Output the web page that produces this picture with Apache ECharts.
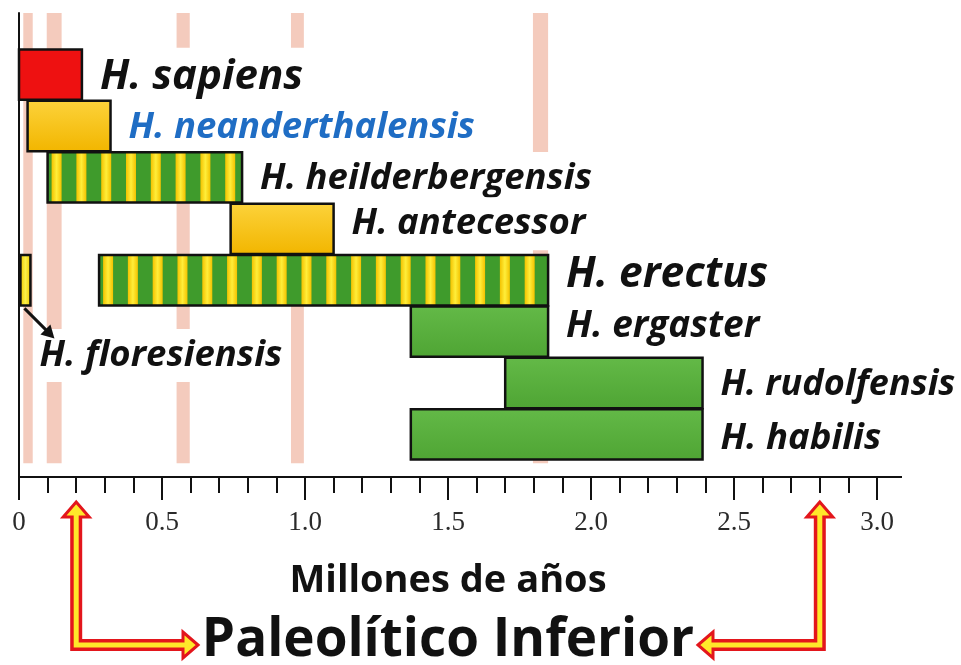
<!DOCTYPE html>
<html>
<head>
<meta charset="utf-8">
<title>Paleolítico Inferior</title>
<script src="https://cdn.jsdelivr.net/npm/echarts@6/dist/echarts.min.js"></script>
<style>
  html, body { margin: 0; padding: 0; background: #fff; }
  #chart { width: 961px; height: 665px; }
</style>
</head>
<body>
<div id="chart"></div>
<script>
// Species time ranges (millions of years ago) and the row each one sits on
const species = ['H. sapiens', 'H. neanderthalensis', 'H. heilderbergensis', 'H. antecessor',
    'H. erectus', 'H. floresiensis', 'H. ergaster', 'H. rudolfensis', 'H. habilis'];
const rangeStart = [0, 0.03, 0.1, 0.74, 0.28, 0.005, 1.37, 1.7, 1.37];
const rangeEnd = [0.22, 0.32, 0.78, 1.1, 1.85, 0.04, 1.85, 2.39, 2.39];
const rowIndex = [0, 1, 2, 3, 4, 4, 5, 6, 7];

// Pink background bands
const bandStart = [0.015, 0.097, 0.551, 0.951, 1.797];
const bandEnd = [0.048, 0.149, 0.597, 0.996, 1.85];

// X axis labels
const xTickValues = [0, 0.5, 1, 1.5, 2, 2.5, 3];
const xTickLabels = ['0', '0.5', '1.0', '1.5', '2.0', '2.5', '3.0'];

// Ends of the "Paleolítico Inferior" arrows on the axis
const periodBounds = [0.2, 2.8];

const FONT = '"Open Sans", "DejaVu Sans", sans-serif';

const speciesStyle = {
    'H. sapiens': {fill: 'red', size: 42, dy: 2},
    'H. neanderthalensis': {fill: 'orange', size: 36.5, dy: 2, color: '#1f6dc4'},
    'H. heilderbergensis': {fill: 'stripes', size: 36.5, dy: 1},
    'H. antecessor': {fill: 'orange', size: 36.5, dy: -5},
    'H. erectus': {fill: 'stripes', size: 42.5, dy: -5},
    'H. floresiensis': {fill: 'yellow', size: 36.5, below: true},
    'H. ergaster': {fill: 'green', size: 37, dy: -5},
    'H. rudolfensis': {fill: 'green', size: 36, dy: 2},
    'H. habilis': {fill: 'green', size: 36.5, dy: 4}
};

const fills = {
    red: '#ee1111',
    orange: new echarts.graphic.LinearGradient(0, 0, 0, 1, [
        {offset: 0, color: '#fcd23a'}, {offset: 1, color: '#f2b600'}]),
    green: new echarts.graphic.LinearGradient(0, 0, 0, 1, [
        {offset: 0, color: '#63b947'}, {offset: 1, color: '#4fa534'}]),
    yellow: new echarts.graphic.LinearGradient(0, 0, 1, 0, [
        {offset: 0, color: '#efc800'}, {offset: 0.5, color: '#fbf04a'}, {offset: 1, color: '#efc800'}])
};
const stripeYellow = new echarts.graphic.LinearGradient(0, 0, 1, 0, [
    {offset: 0, color: '#f3c200'}, {offset: 0.5, color: '#ffee3a'}, {offset: 1, color: '#f3c200'}]);
const STRIPE_PERIOD = 24.8;
const STRIPE_WIDTH = 10;

const Y_MIN = -1.2;
const Y_MAX = 7.83;
const BAND_BOTTOM = 7.56;

const barData = species.map(function (name, i) {
    return [rangeStart[i], rangeEnd[i], rowIndex[i]];
});
const bandData = bandStart.map(function (s, i) {
    return [s, bandEnd[i]];
});

function barRect(api) {
    const row = api.value(2);
    const p0 = api.coord([api.value(0), row]);
    const p1 = api.coord([api.value(1), row]);
    const h = Math.abs(api.size([0, 1])[1]) * 0.98;
    return {x: p0[0], y: p0[1] - h / 2, width: p1[0] - p0[0], height: h};
}

function renderBand(params, api) {
    const top = api.coord([api.value(0), Y_MIN]);
    const bottom = api.coord([api.value(1), BAND_BOTTOM]);
    return {
        type: 'rect',
        shape: {x: top[0], y: top[1], width: bottom[0] - top[0], height: bottom[1] - top[1]},
        style: {fill: '#f4cbbd'}
    };
}

function renderBar(params, api) {
    const st = speciesStyle[species[params.dataIndex]];
    const r = barRect(api);
    const children = [];
    if (st.fill === 'stripes') {
        children.push({type: 'rect', shape: r, style: {fill: '#3f9b2c'}});
        for (let x = r.x + 4; x < r.x + r.width; x += STRIPE_PERIOD) {
            const w = Math.min(STRIPE_WIDTH, r.x + r.width - x);
            children.push({type: 'rect', shape: {x: x, y: r.y, width: w, height: r.height},
                style: {fill: stripeYellow}});
        }
    } else {
        children.push({type: 'rect', shape: r, style: {fill: fills[st.fill]}});
    }
    children.push({type: 'rect', shape: r, style: {fill: null, stroke: '#111', lineWidth: 2.5}});
    return {type: 'group', children: children};
}

function renderLabel(params, api) {
    const name = species[params.dataIndex];
    const st = speciesStyle[name];
    const r = barRect(api);
    const children = [];
    let tx, ty;
    if (st.below) {
        tx = r.x + 15;
        ty = r.y + r.height + 50;
    } else {
        tx = r.x + r.width + 14;
        ty = r.y + r.height / 2 + st.dy;
    }
    children.push({
        type: 'text',
        style: {
            text: name,
            x: tx,
            y: ty,
            align: 'left',
            verticalAlign: 'middle',
            font: 'italic bold ' + st.size + 'px ' + FONT,
            fill: st.color || '#111',
            backgroundColor: '#fff',
            padding: [8, 4]
        }
    });
    if (st.below) {
        // small pointer from the bar down to its label
        const x1 = r.x + 4, y1 = r.y + r.height + 3;
        const x2 = r.x + 34, y2 = r.y + r.height + 33;
        children.push({type: 'line', shape: {x1: x1, y1: y1, x2: x2 - 5, y2: y2 - 5},
            style: {stroke: '#111', lineWidth: 3}});
        children.push({type: 'polygon', shape: {points: [[x2, y2], [x2 - 14, y2 - 4], [x2 - 4, y2 - 14]]},
            style: {fill: '#111'}});
    }
    return {type: 'group', children: children};
}

const chart = echarts.init(document.getElementById('chart'));
const option = {
    animation: false,
    backgroundColor: '#fff',
    grid: {left: 19, right: 84, top: 13, bottom: 188},
    xAxis: {
        type: 'value',
        min: 0,
        max: 3,
        interval: 0.5,
        name: 'Millones de años',
        nameLocation: 'middle',
        nameGap: 85,
        nameTextStyle: {fontFamily: FONT, fontWeight: 'bold', fontSize: 38, color: '#111'},
        axisLine: {onZero: false, lineStyle: {color: '#111', width: 2}},
        axisTick: {length: 23, lineStyle: {color: '#111', width: 2}},
        minorTick: {show: true, splitNumber: 5, length: 16, lineStyle: {color: '#111', width: 2}},
        splitLine: {show: false},
        axisLabel: {
            margin: 32,
            fontFamily: '"Liberation Serif", "DejaVu Serif", serif',
            fontSize: 27,
            color: '#2a2a2a',
            formatter: function (v) {
                const i = xTickValues.indexOf(v);
                return i >= 0 ? xTickLabels[i] : '';
            }
        }
    },
    yAxis: {
        type: 'value',
        inverse: true,
        min: Y_MIN,
        max: Y_MAX,
        axisLine: {show: true, onZero: false, lineStyle: {color: '#111', width: 2}},
        axisTick: {show: false},
        axisLabel: {show: false},
        splitLine: {show: false}
    },
    series: [
        {
            type: 'custom',
            name: 'bands',
            z: 1,
            silent: true,
            renderItem: renderBand,
            encode: {x: [0, 1]},
            data: bandData
        },
        {
            type: 'custom',
            name: 'labels',
            z: 2,
            renderItem: renderLabel,
            encode: {x: [0, 1], y: 2},
            data: barData
        },
        {
            type: 'custom',
            name: 'bars',
            z: 3,
            renderItem: renderBar,
            encode: {x: [0, 1], y: 2},
            data: barData
        }
    ]
};
chart.setOption(option);

// Axis line runs a little past 3.0, and the period arrows under the axis
const axisEnd = chart.convertToPixel({gridIndex: 0}, [3, Y_MAX]);
const midX = chart.convertToPixel({gridIndex: 0}, [1.5, Y_MAX])[0];
const RED = '#e3161c';
const YELLOW = '#ffe82a';

function periodArrow(xUp, xTip) {
    const dir = xTip > xUp ? 1 : -1;
    const tipY = 502, turnY = 645, headLen = 15, headHalf = 13;
    const outer = [[xUp, tipY + headLen - 1], [xUp, turnY], [xTip - dir * (headLen - 1), turnY]];
    const inner = [[xUp, tipY + headLen - 2], [xUp, turnY], [xTip - dir * (headLen - 2), turnY]];
    const headStyle = {fill: YELLOW, stroke: RED, lineWidth: 3, lineJoin: 'miter'};
    return [
        {type: 'polyline', z: 10, shape: {points: outer},
            style: {stroke: RED, lineWidth: 12, fill: null, lineJoin: 'miter', lineCap: 'square'}},
        {type: 'polygon', z: 11,
            shape: {points: [[xUp, tipY], [xUp - headHalf, tipY + headLen], [xUp + headHalf, tipY + headLen]]},
            style: headStyle},
        {type: 'polygon', z: 11,
            shape: {points: [[xTip, turnY], [xTip - dir * headLen, turnY - headHalf], [xTip - dir * headLen, turnY + headHalf]]},
            style: headStyle},
        {type: 'polyline', z: 12, shape: {points: inner},
            style: {stroke: YELLOW, lineWidth: 5, fill: null, lineJoin: 'miter'}}
    ];
}

const leftX = chart.convertToPixel({gridIndex: 0}, [periodBounds[0], Y_MAX])[0];
const rightX = chart.convertToPixel({gridIndex: 0}, [periodBounds[1], Y_MAX])[0];

chart.setOption({
    graphic: [
        {type: 'line', shape: {x1: axisEnd[0], y1: axisEnd[1], x2: axisEnd[0] + 25, y2: axisEnd[1]},
            style: {stroke: '#111', lineWidth: 2}}
    ].concat(periodArrow(leftX, midX - 250), periodArrow(rightX, midX + 250), [
        {type: 'text', z: 12, style: {
            text: 'Paleolítico Inferior', x: midX, y: 641, align: 'center', verticalAlign: 'middle',
            font: 'bold 53px ' + FONT, fill: '#111'}}
    ])
});

window.addEventListener('resize', function () {
    chart.resize();
});
</script>
</body>
</html>
